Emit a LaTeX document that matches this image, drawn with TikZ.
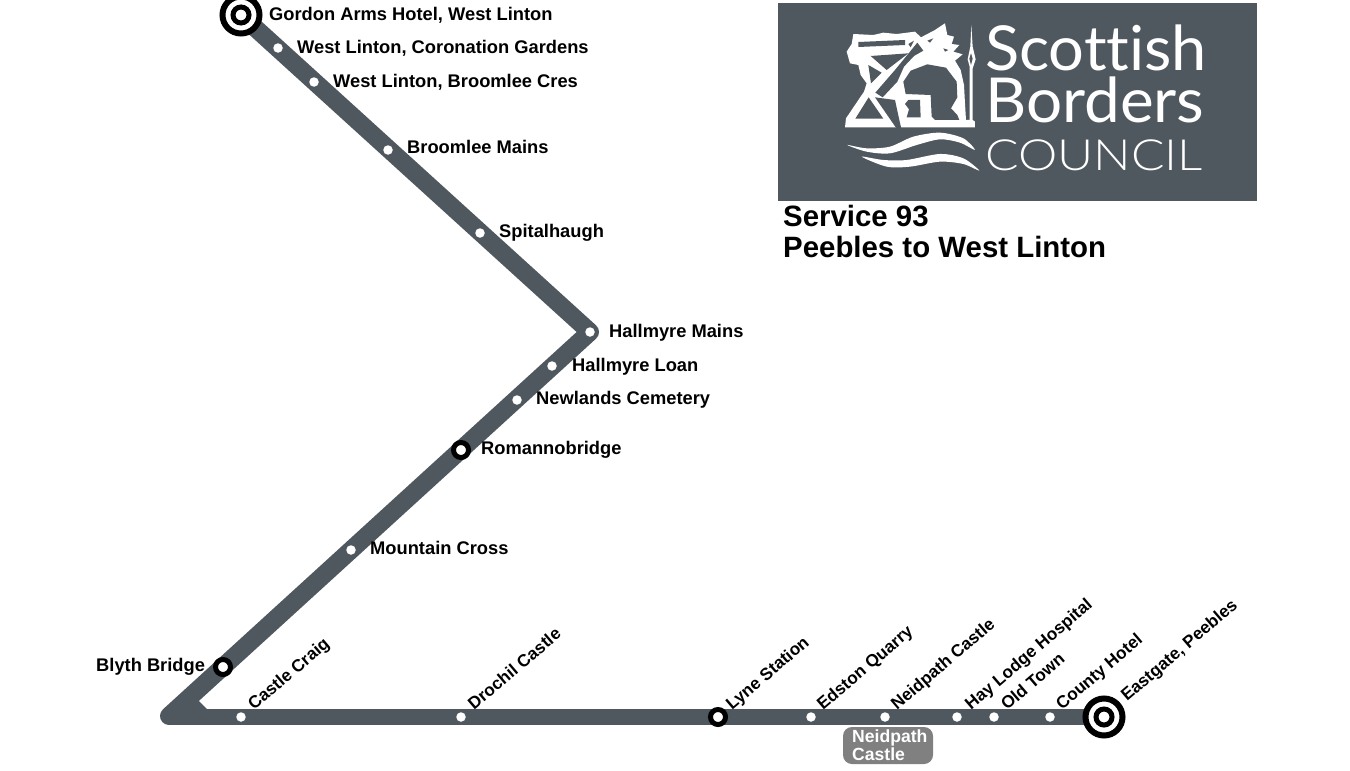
\documentclass[tikz,border=0pt]{standalone}
\usepackage{fontspec}
\setmainfont{Liberation Sans}
\newfontfamily\logofont[Ligatures=NoCommon]{Lato}
\newfontfamily\logolight{Lato Light}
\definecolor{slate}{HTML}{50585F}
\definecolor{boxgrey}{HTML}{808080}
\tikzset{
  x=1pt,y=-1pt,
  routediag/.style={draw=slate,line width=18pt,line join=round,line cap=round},
  routeflat/.style={draw=slate,line width=15.5pt,line cap=butt},
  minor/.style={circle,fill=white,inner sep=0pt,minimum size=9.5pt},
  major/.style={circle,draw=black,fill=white,line width=5pt,inner sep=0pt,minimum size=15pt},
  term/.style={circle,draw=black,fill=white,line width=6pt,inner sep=0pt,minimum size=37pt},
  terminner/.style={circle,draw=black,fill=white,line width=5pt,inner sep=0pt,minimum size=16pt},
  lab/.style={anchor=base west,inner sep=0pt,font=\fontsize{18.3}{20}\selectfont\bfseries,text=black},
  rlab/.style={anchor=base west,inner sep=0pt,font=\fontsize{17.2}{20}\selectfont\bfseries,text=black,rotate=40.5},
  title/.style={anchor=base west,inner sep=0pt,font=\fontsize{29.4}{31}\selectfont\bfseries,text=black},
  boxtext/.style={anchor=base west,inner sep=0pt,text=white,font=\fontsize{17.6}{18}\selectfont\bfseries},
}
\begin{document}
\begin{tikzpicture}
\useasboundingbox (0,0) rectangle (1350,771);
\fill[white] (0,0) rectangle (1350,771);
% route
\coordinate (corner) at (169,716);
\path
 (241,15) coordinate (gordonc)
 (590,332) coordinate (hallc)
 (1104,717) coordinate (eastc);
\draw[routediag] (gordonc) -- (hallc) -- (corner);
\draw[routeflat] (corner |- eastc) -- (eastc);
\fill[slate] (186,690) -- (199,701) -- (208,710) -- (170,718) -- cycle;
% stops
\node[term] (gordon) at (gordonc) {};
\node[terminner] (gordoni) at (gordonc) {};
\node[term] (east) at (eastc) {};
\node[terminner] (easti) at (eastc) {};
\node[minor] (s1) at (278,48) {};
\node[minor] (s2) at (314,82) {};
\node[minor] (s3) at (388,150) {};
\node[minor] (s4) at (480,233) {};
\node[minor] (s5) at (hallc) {};
\node[minor] (s6) at (552,366) {};
\node[minor] (s7) at (517,400) {};
\node[major] (s8) at (461,450) {};
\node[minor] (s9) at (351,550) {};
\node[major] (s10) at (223,667) {};
\node[minor] (s11) at (241,717) {};
\node[minor] (s12) at (461,717) {};
\node[major] (s13) at (718,717) {};
\node[minor] (s14) at (811,717) {};
\node[minor] (s15) at (885,717) {};
\node[minor] (s16) at (957,717) {};
\node[minor] (s17) at (994,717) {};
\node[minor] (s18) at (1050,717) {};
% labels
\node[lab] (l0) at (269,20) {Gordon Arms Hotel, West Linton};
\node[lab] (l1) at (297,53) {West Linton, Coronation Gardens};
\node[lab] (l2) at (333,87) {West Linton, Broomlee Cres};
\node[lab] (l3) at (407,153) {Broomlee Mains};
\node[lab] (l4) at (499,237) {Spitalhaugh};
\node[lab] (l5) at (609,337) {Hallmyre Mains};
\node[lab] (l6) at (572,371) {Hallmyre Loan};
\node[lab] (l7) at (536,404) {Newlands Cemetery};
\node[lab] (l8) at (481,454) {Romannobridge};
\node[lab] (l9) at (370,554) {Mountain Cross};
\node[lab] (l10) at (96,671) {Blyth Bridge};
\node[rlab] (l11) at (254,711) {Castle Craig};
\node[rlab] (l12) at (474,711) {Drochil Castle};
\node[rlab] (l13) at (732,711) {Lyne Station};
\node[rlab] (l14) at (823,711) {Edston Quarry};
\node[rlab] (l15) at (897,711) {Neidpath Castle};
\node[rlab] (l16) at (971,711) {Hay Lodge Hospital};
\node[rlab] (l17) at (1007,711) {Old Town};
\node[rlab] (l18) at (1062,711) {County Hotel};
\node[rlab] (l19) at (1127,702) {Eastgate, Peebles};
% Neidpath box
\fill[boxgrey,rounded corners=9pt] (843,727) rectangle (933,764);
\node[boxtext] (nb1) at (852,742) {Neidpath};
\node[boxtext] (nb2) at (852,760) {Castle};
% titles
\node[title] (t1) at (783,226) {Service 93};
\node[title] (t2) at (783,257) {Peebles to West Linton};
% logo
\fill[slate] (778,3) rectangle (1257,201);
\node[anchor=base west,inner sep=0pt,text=white,font=\logofont\fontsize{62}{62}\selectfont] (lg1) at (985,70) {\scalebox{1.018}[1]{Scottish}};
\node[anchor=base west,inner sep=0pt,text=white,font=\logofont\fontsize{62}{62}\selectfont] (lg2) at (985,122) {\scalebox{1.03}[1]{Borders}};
\node[anchor=base west,inner sep=0pt,text=white,font=\logolight\fontsize{43}{43}\selectfont] (lg3) at (985,170) {\scalebox{1.155}[1]{COUNCIL}};
\begin{scope}[shift={(840,20)},x=0.3333pt,y=-0.3333pt]
\fill[white] (15,322) -- (18,295) -- (72,215) -- (80,190) -- (62,165) -- (55,135) -- (30,130) -- (20,95) -- (35,72) -- (40,42) -- (100,45) -- (130,38) -- (170,42) -- (225,35) -- (243,52) -- (285,30) -- (315,10) -- (322,45) -- (342,50) -- (335,72) -- (358,75) -- (340,95) -- (368,103) -- (345,122) -- (362,150) -- (372,195) -- (375,250) -- (378,300) -- (389,300) -- (389,140) -- (383,118) -- (391,80) -- (394,15) -- (398,80) -- (407,118) -- (398,145) -- (398,300) -- (405,305) -- (405,322) -- cycle;
\fill[slate] (55,66) -- (195,60) -- (195,75) -- (55,81) -- cycle;
\fill[slate] (92,108) -- (205,100) -- (140,150) -- cycle;
\fill[slate] (85,135) -- (125,158) -- (93,190) -- cycle;
\fill[slate] (86,232) -- (46,296) -- (130,296) -- cycle;
\fill[slate] (232,68) -- (250,92) -- (222,108) -- (192,140) -- (172,185) -- (128,232) -- (106,218) -- (165,150) -- cycle;
\fill[slate] (105,232) -- (165,240) -- (178,300) -- (184,326) -- (170,326) -- cycle;
\fill[slate] (197,222) -- (190,185) -- (212,152) -- (262,133) -- (318,143) -- (350,185) -- (352,232) -- (333,265) -- (352,285) -- (358,300) -- (285,300) -- (275,290) -- (272,225) -- cycle;
\fill[slate] (205,240) -- (240,240) -- (242,292) -- (200,292) -- (207,268) -- (195,252) -- cycle;
\fill[slate] (205,72) -- (222,62) -- (212,82) -- cycle;
\fill[slate] (262,62) -- (280,55) -- (270,68) -- cycle;
\fill[slate] (310,85) -- (325,90) -- (315,95) -- cycle;
\fill[slate] (393,100) -- (398,116) -- (393,135) -- (388,116) -- cycle;
\fill[white] plot[smooth cycle,tension=0.5] coordinates {(22,375) (80,385) (150,380) (220,350) (300,338) (370,355) (405,390) (360,368) (300,358) (230,375) (150,400) (80,395)};
\fill[white] plot[smooth cycle,tension=0.5] coordinates {(65,410) (130,420) (200,420) (300,402) (370,415) (418,452) (370,432) (300,425) (210,440) (140,440)};
\end{scope}
\end{tikzpicture}
\end{document}
